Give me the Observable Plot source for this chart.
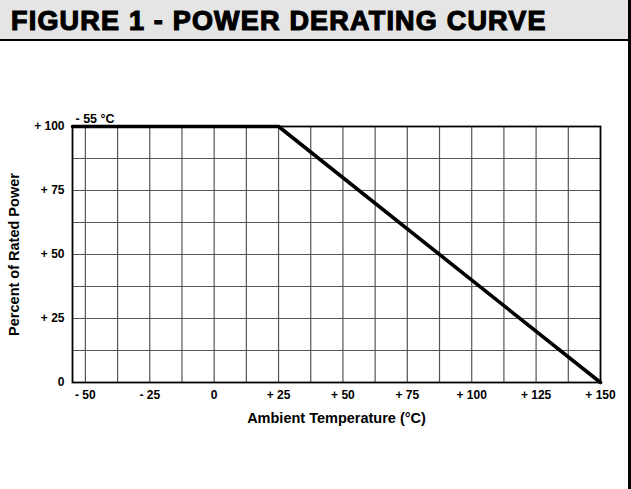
<!DOCTYPE html>
<html>
<head>
<meta charset="utf-8">
<script src="https://cdn.jsdelivr.net/npm/d3@7"></script>
<script src="https://cdn.jsdelivr.net/npm/@observablehq/plot@0.6"></script>
<style>
  html, body { margin: 0; padding: 0; background: #fff; }
  #wrap { position: relative; width: 631px; height: 489px; overflow: hidden; background: #fff; }
  #header {
    box-sizing: border-box;
    width: 631px; height: 41px;
    background: #e5e5e5;
    border-bottom: 2px solid #000;
    border-right: 3px solid #000;
    font-family: "Liberation Sans", Arial, sans-serif;
    font-weight: 900;
    font-size: 27px;
    line-height: 42px;
    padding-left: 11px;
    color: #000;
    -webkit-text-stroke: 1.2px #000;
    letter-spacing: 1.2px;
    white-space: nowrap;
  }
  #chart { box-sizing: border-box; width: 631px; border-right: 3px solid #000; height: 448px; }
  #chart svg { display: block; }
</style>
</head>
<body>
<div id="wrap">
  <div id="header">FIGURE 1 - POWER DERATING CURVE</div>
  <div id="chart"></div>
</div>
<script>
// Derating curve points (temperature °C, percent rated power)
const temperature = [-55, 25, 150];
const percentPower = [100, 100, 0];

// Axis ticks and labels
const xTicks = [-50, -25, 0, 25, 50, 75, 100, 125, 150];
const xTickLabels = ["- 50", "- 25", "0", "+ 25", "+ 50", "+ 75", "+ 100", "+ 125", "+ 150"];
const yTicks = [0, 25, 50, 75, 100];
const yTickLabels = ["0", "+ 25", "+ 50", "+ 75", "+ 100"];

// Grid lines
const xGrid = [-50, -37.5, -25, -12.5, 0, 12.5, 25, 37.5, 50, 62.5, 75, 87.5, 100, 112.5, 125, 137.5];
const yGrid = [12.5, 25, 37.5, 50, 62.5, 75, 87.5];

const xDomain = [-55, 150];
const yDomain = [0, 100];

const curve = temperature.map((t, i) => ({t, p: percentPower[i]}));

const font = "'Liberation Sans', Arial, sans-serif";

const chart = Plot.plot({
  width: 628,
  height: 448,
  marginLeft: 72,
  marginRight: 28,
  marginTop: 85,
  marginBottom: 107,
  style: {fontFamily: font, fontSize: "12px", fontWeight: "bold", color: "#000", background: "#fff"},
  x: {domain: xDomain},
  y: {domain: yDomain},
  marks: [
    Plot.ruleX(xGrid, {stroke: "#555", strokeWidth: 1.2}),
    Plot.ruleY(yGrid, {stroke: "#555", strokeWidth: 1.2}),
    Plot.frame({stroke: "#000", strokeWidth: 1.8}),
    Plot.axisX({
      ticks: xTicks,
      tickSize: 0,
      tickPadding: 8,
      tickFormat: (d) => xTickLabels[xTicks.indexOf(d)],
      fontWeight: "bold",
      fontSize: 12,
      label: null
    }),
    Plot.axisY({
      ticks: yTicks,
      tickSize: 0,
      tickPadding: 8,
      tickFormat: (d) => yTickLabels[yTicks.indexOf(d)],
      fontWeight: "bold",
      fontSize: 12,
      label: null
    }),
    Plot.text(["Ambient Temperature (°C)"], {
      frameAnchor: "bottom", dy: 40, fontSize: 14.5, fontWeight: "bold", textAnchor: "middle"
    }),
    Plot.text(["Percent of Rated Power"], {
      frameAnchor: "left", dx: -58, rotate: -90, fontSize: 14.5, fontWeight: "bold", textAnchor: "middle"
    }),
    Plot.line(curve, {x: "t", y: "p", stroke: "#000", strokeWidth: 3.6, strokeLinejoin: "miter"}),
    Plot.text([curve[0]], {x: "t", y: "p", text: () => "- 55 °C", textAnchor: "start", dx: 3, dy: -8, fontSize: 12.5, fontWeight: "bold"})
  ]
});
document.getElementById("chart").appendChild(chart);
</script>
</body>
</html>
